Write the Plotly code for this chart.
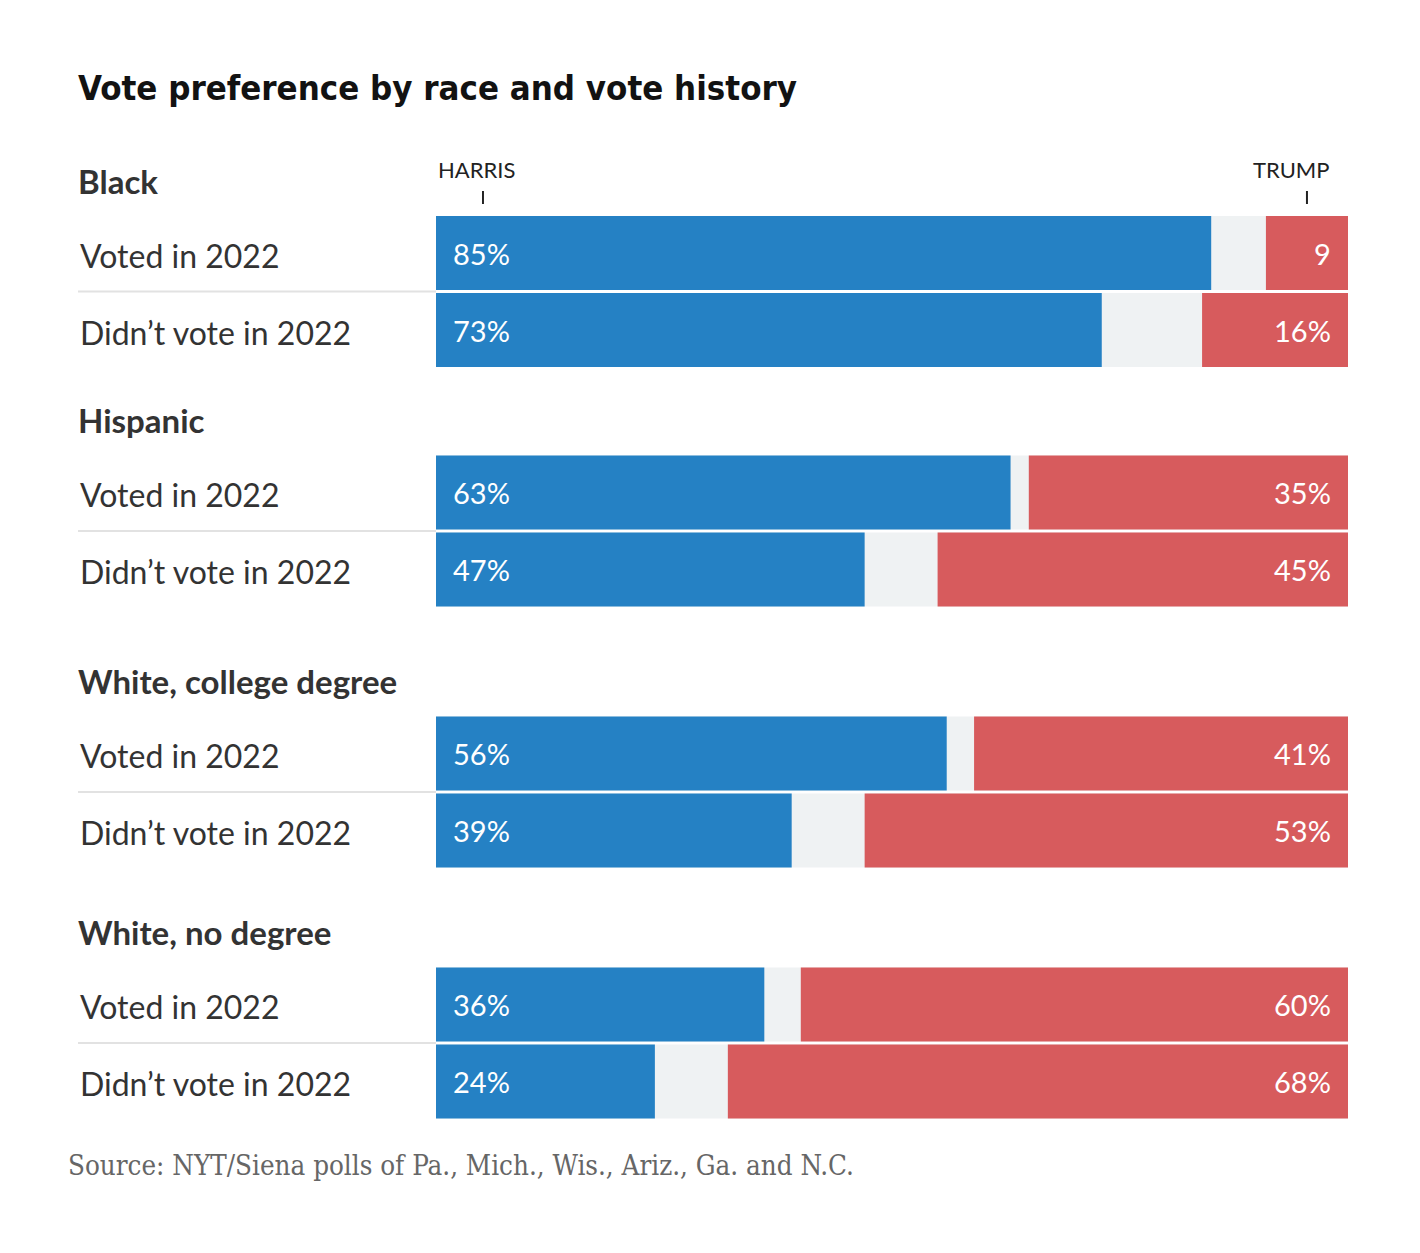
import plotly.graph_objects as go

# data
groups = ["Black", "Hispanic", "White, college degree", "White, no degree"]
rows = ["Voted in 2022", "Didn’t vote in 2022"]
harris = [85, 73, 63, 47, 56, 39, 36, 24]
trump = [9, 16, 35, 45, 41, 53, 60, 68]
harris_labels = ["85%", "73%", "63%", "47%", "56%", "39%", "36%", "24%"]
trump_labels = ["9", "16%", "35%", "45%", "41%", "53%", "60%", "68%"]

BLUE = "#2581c4"
RED = "#d75b5d"
GRAY = "#eff2f3"
W, H = 1420, 1253
OFF = 8  # page body margin


def px(x):
    # page pixel -> paper x
    return (x - OFF) / W


# layout (page pixel units on the y axis, top = 0)
group_mid = [291.5, 531, 792, 1043]
row_off = [-38.5, 38.5]
bar_h = 74

y_pos = [m + o for m in group_mid for o in row_off]
row_names = [r for _ in groups for r in rows]

fig = go.Figure()
fig.add_trace(go.Bar(y=y_pos, x=[100] * len(y_pos), base=0, orientation="h",
                     width=bar_h, marker_color=GRAY, marker_line_width=0,
                     hoverinfo="skip"))
fig.add_trace(go.Bar(y=y_pos, x=harris, base=0, orientation="h",
                     width=bar_h, marker_color=BLUE, marker_line_width=0,
                     name="Harris"))
fig.add_trace(go.Bar(y=y_pos, x=trump, base=[100 - t for t in trump],
                     orientation="h", width=bar_h, marker_color=RED,
                     marker_line_width=0, name="Trump"))

ann = []
lab_font = dict(family="Lato, Noto Sans, sans-serif", size=29, color="white")
for i, y in enumerate(y_pos):
    ann.append(dict(x=0, y=y, xref="x", yref="y", text=harris_labels[i],
                    xanchor="left", yanchor="middle", xshift=15,
                    showarrow=False, font=lab_font))
    ann.append(dict(x=100, y=y, xref="x", yref="y", text=trump_labels[i],
                    xanchor="right", yanchor="middle", xshift=-15,
                    showarrow=False, font=lab_font))
    ann.append(dict(x=px(78), y=y + 2, xref="paper", yref="y",
                    text=row_names[i], xanchor="left", yanchor="middle",
                    showarrow=False,
                    font=dict(family="Lato, Noto Sans, sans-serif", size=32,
                              color="#333333")))

for g, m in zip(groups, group_mid):
    ann.append(dict(x=px(76), y=m - 111, xref="paper", yref="y",
                    text=f"<b>{g}</b>", xanchor="left", yanchor="middle",
                    showarrow=False,
                    font=dict(family="Lato, Noto Sans, sans-serif", size=33,
                              color="#333333")))

# candidate headers
hdr_font = dict(family="Lato, sans-serif", size=22, color="#222")
ann.append(dict(x=0, y=169, xref="x", yref="y", text="HARRIS",
                xanchor="left", yanchor="middle", showarrow=False,
                font=hdr_font))
ann.append(dict(x=98.2, y=169, xref="x", yref="y", text="TRUMP",
                xanchor="right", yanchor="middle", showarrow=False,
                font=hdr_font))

# title and source
ann.append(dict(x=px(76), y=88, xref="paper", yref="y",
                text="<b>Vote preference by race and vote history</b>",
                xanchor="left", yanchor="middle", showarrow=False,
                font=dict(family="DejaVu Sans Condensed, sans-serif",
                          size=34.5, color="#121212")))
ann.append(dict(x=px(66), y=1165, xref="paper", yref="y",
                text="Source: NYT/Siena polls of Pa., Mich., Wis., Ariz., Ga. and N.C.",
                xanchor="left", yanchor="middle", showarrow=False,
                font=dict(family="DejaVu Serif Condensed, serif", size=27.5,
                          color="#666666")))

shapes = []
for xv in [5.15, 95.5]:
    shapes.append(dict(type="line", xref="x", yref="y", x0=xv, x1=xv,
                       y0=191, y1=204, line=dict(color="#222", width=2)))
for m in group_mid:
    shapes.append(dict(type="line", xref="paper", yref="y", x0=px(78),
                       x1=px(436), y0=m, y1=m,
                       line=dict(color="#e2e2e2", width=2)))

fig.update_layout(
    width=W, height=H,
    margin=dict(l=0, r=0, t=0, b=0),
    paper_bgcolor="white", plot_bgcolor="white",
    barmode="overlay", showlegend=False,
    xaxis=dict(domain=[px(436), px(1348)], range=[0, 100], visible=False,
               fixedrange=True),
    yaxis=dict(domain=[0, 1], range=[H + OFF, OFF], visible=False,
               fixedrange=True),
    annotations=ann, shapes=shapes,
)

fig.write_html("out.html")
